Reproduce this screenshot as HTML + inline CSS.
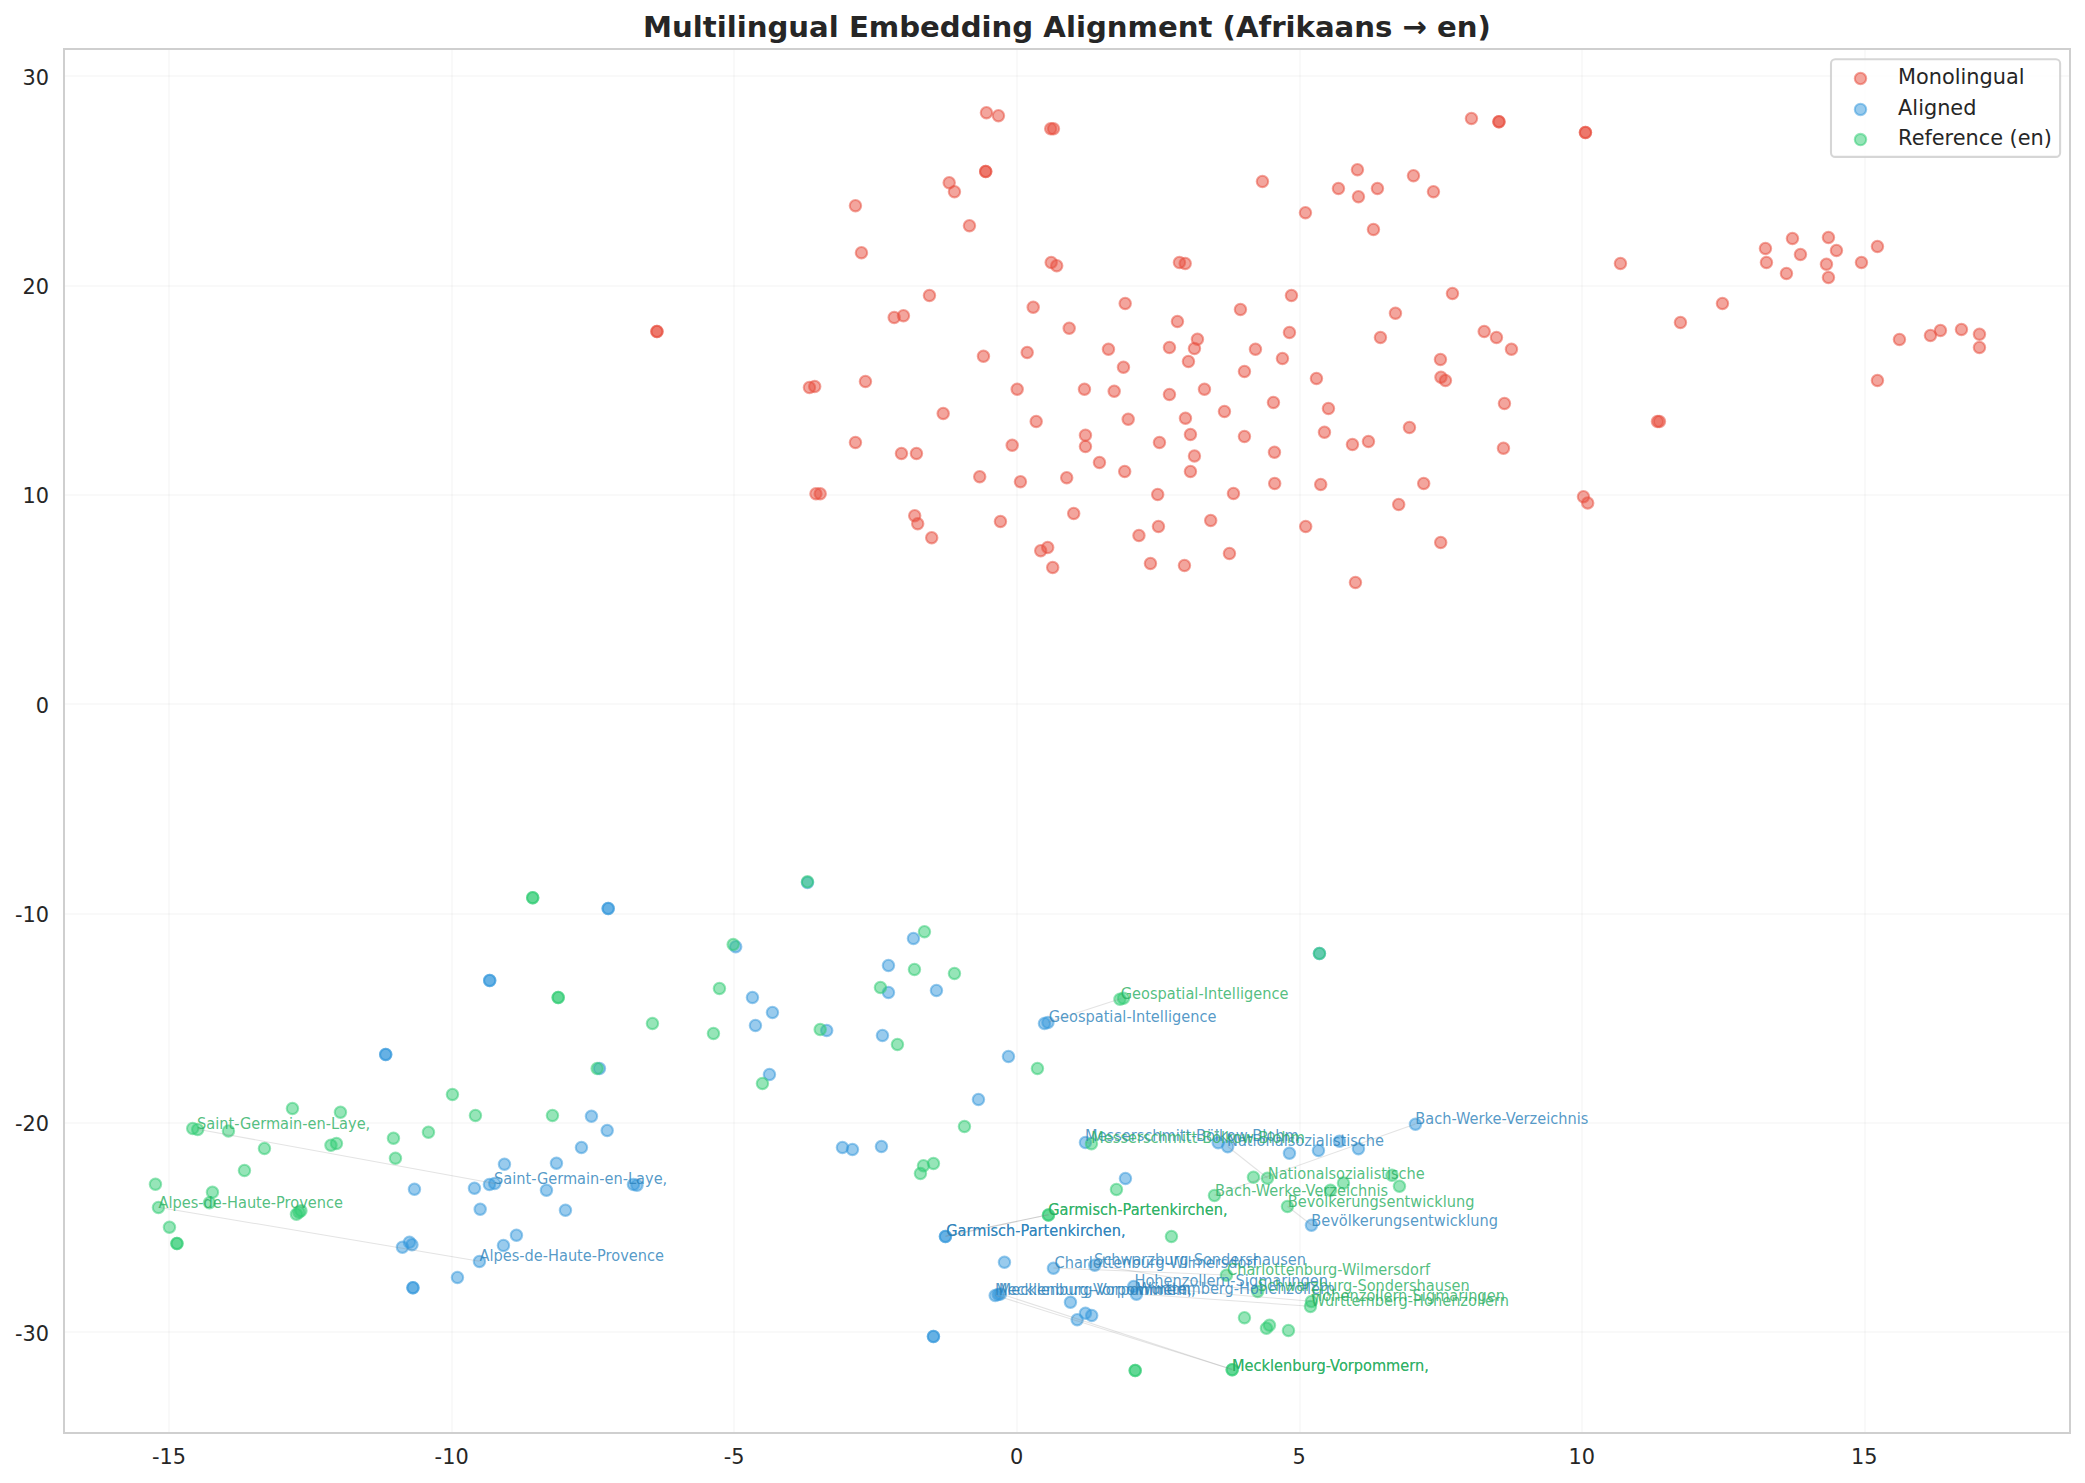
<!DOCTYPE html>
<html lang="en"><head><meta charset="utf-8">
<title>Multilingual Embedding Alignment (Afrikaans → en)</title>
<style>
html,body{margin:0;padding:0;background:#fff;}
body{width:2085px;height:1483px;overflow:hidden;}
svg{display:block;}
text{font-family:"DejaVu Sans","Liberation Sans",sans-serif;}
.tk{font-size:20.83px;fill:#262626;}
.lg{font-size:20.83px;fill:#262626;}
.ti{font-size:29.17px;font-weight:bold;fill:#262626;text-anchor:middle;}
.gl{font-size:14.58px;fill:#27ae60;fill-opacity:.8;}
.bl{font-size:14.58px;fill:#2980b9;fill-opacity:.8;}
.r circle,.b circle,.g circle{fill-opacity:.5;stroke-opacity:.5;stroke-width:2.08;}
.r circle{fill:#e74c3c;stroke:#e74c3c;}
.b circle{fill:#3498db;stroke:#3498db;}
.g circle{fill:#2ecc71;stroke:#2ecc71;}
.grid line{stroke:#cccccc;stroke-opacity:.11;stroke-width:2;}
.cl line{stroke:#808080;stroke-opacity:.22;stroke-width:1.04;}
</style></head><body>
<svg width="2085" height="1483" viewBox="0 0 2085 1483">
<rect x="0" y="0" width="2085" height="1483" fill="#ffffff"/>
<text class="ti" x="1067" y="36.7">Multilingual Embedding Alignment (Afrikaans → en)</text>
<g class="grid">
<line x1="169" y1="49" x2="169" y2="1433"/>
<line x1="452" y1="49" x2="452" y2="1433"/>
<line x1="734" y1="49" x2="734" y2="1433"/>
<line x1="1017" y1="49" x2="1017" y2="1433"/>
<line x1="1300" y1="49" x2="1300" y2="1433"/>
<line x1="1582" y1="49" x2="1582" y2="1433"/>
<line x1="1865" y1="49" x2="1865" y2="1433"/>
<line x1="64" y1="1332" x2="2070" y2="1332"/>
<line x1="64" y1="1123" x2="2070" y2="1123"/>
<line x1="64" y1="914" x2="2070" y2="914"/>
<line x1="64" y1="704" x2="2070" y2="704"/>
<line x1="64" y1="495" x2="2070" y2="495"/>
<line x1="64" y1="286" x2="2070" y2="286"/>
<line x1="64" y1="76" x2="2070" y2="76"/>
</g>
<g class="r">
<circle cx="986.45" cy="112.7" r="5.7"/>
<circle cx="998.45" cy="115.7" r="5.7"/>
<circle cx="1050.7" cy="128.7" r="5.7"/>
<circle cx="1053.45" cy="128.7" r="5.7"/>
<circle cx="985.7" cy="171.45" r="5.7"/>
<circle cx="985.7" cy="171.45" r="5.7"/>
<circle cx="949.2" cy="182.7" r="5.7"/>
<circle cx="954.45" cy="191.7" r="5.7"/>
<circle cx="855.45" cy="205.7" r="5.7"/>
<circle cx="969.45" cy="225.7" r="5.7"/>
<circle cx="861.45" cy="252.7" r="5.7"/>
<circle cx="1051.2" cy="262.45" r="5.7"/>
<circle cx="1056.7" cy="265.7" r="5.7"/>
<circle cx="929.45" cy="295.45" r="5.7"/>
<circle cx="1033.2" cy="307.2" r="5.7"/>
<circle cx="1125.2" cy="303.45" r="5.7"/>
<circle cx="894.2" cy="317.45" r="5.7"/>
<circle cx="903.45" cy="315.7" r="5.7"/>
<circle cx="656.95" cy="331.45" r="5.7"/>
<circle cx="656.95" cy="331.45" r="5.7"/>
<circle cx="1069.2" cy="328.2" r="5.7"/>
<circle cx="1108.45" cy="349.2" r="5.7"/>
<circle cx="1027.2" cy="352.45" r="5.7"/>
<circle cx="983.45" cy="356.2" r="5.7"/>
<circle cx="1123.45" cy="367.2" r="5.7"/>
<circle cx="865.45" cy="381.45" r="5.7"/>
<circle cx="809.45" cy="387.45" r="5.7"/>
<circle cx="814.7" cy="386.45" r="5.7"/>
<circle cx="1017.2" cy="389.2" r="5.7"/>
<circle cx="1084.45" cy="389.2" r="5.7"/>
<circle cx="1114.2" cy="391.2" r="5.7"/>
<circle cx="943.2" cy="413.45" r="5.7"/>
<circle cx="1036.2" cy="421.45" r="5.7"/>
<circle cx="1128.2" cy="419.2" r="5.7"/>
<circle cx="1085.45" cy="435.2" r="5.7"/>
<circle cx="855.45" cy="442.45" r="5.7"/>
<circle cx="1012.2" cy="445.2" r="5.7"/>
<circle cx="1085.45" cy="446.45" r="5.7"/>
<circle cx="901.45" cy="453.45" r="5.7"/>
<circle cx="916.45" cy="453.45" r="5.7"/>
<circle cx="1099.45" cy="462.45" r="5.7"/>
<circle cx="1471.45" cy="118.45" r="5.7"/>
<circle cx="1498.95" cy="121.7" r="5.7"/>
<circle cx="1498.95" cy="121.7" r="5.7"/>
<circle cx="1585.45" cy="132.45" r="5.7"/>
<circle cx="1585.45" cy="132.45" r="5.7"/>
<circle cx="1357.45" cy="169.7" r="5.7"/>
<circle cx="1262.45" cy="181.45" r="5.7"/>
<circle cx="1413.45" cy="175.7" r="5.7"/>
<circle cx="1338.45" cy="188.45" r="5.7"/>
<circle cx="1377.45" cy="188.45" r="5.7"/>
<circle cx="1358.45" cy="196.7" r="5.7"/>
<circle cx="1433.45" cy="191.7" r="5.7"/>
<circle cx="1305.45" cy="212.7" r="5.7"/>
<circle cx="1373.45" cy="229.45" r="5.7"/>
<circle cx="1179.45" cy="262.45" r="5.7"/>
<circle cx="1185.2" cy="263.45" r="5.7"/>
<circle cx="1620.45" cy="263.45" r="5.7"/>
<circle cx="1291.45" cy="295.45" r="5.7"/>
<circle cx="1452.45" cy="293.45" r="5.7"/>
<circle cx="1240.45" cy="309.45" r="5.7"/>
<circle cx="1395.45" cy="313.2" r="5.7"/>
<circle cx="1177.45" cy="321.45" r="5.7"/>
<circle cx="1289.45" cy="332.45" r="5.7"/>
<circle cx="1484.2" cy="331.45" r="5.7"/>
<circle cx="1496.45" cy="337.45" r="5.7"/>
<circle cx="1380.45" cy="337.45" r="5.7"/>
<circle cx="1197.45" cy="339.2" r="5.7"/>
<circle cx="1169.45" cy="347.45" r="5.7"/>
<circle cx="1194.45" cy="348.45" r="5.7"/>
<circle cx="1255.45" cy="349.2" r="5.7"/>
<circle cx="1511.45" cy="349.2" r="5.7"/>
<circle cx="1282.45" cy="358.45" r="5.7"/>
<circle cx="1440.45" cy="359.45" r="5.7"/>
<circle cx="1188.45" cy="361.45" r="5.7"/>
<circle cx="1244.45" cy="371.45" r="5.7"/>
<circle cx="1316.45" cy="378.45" r="5.7"/>
<circle cx="1440.95" cy="377.2" r="5.7"/>
<circle cx="1445.45" cy="380.45" r="5.7"/>
<circle cx="1204.45" cy="389.2" r="5.7"/>
<circle cx="1169.45" cy="394.45" r="5.7"/>
<circle cx="1273.45" cy="402.45" r="5.7"/>
<circle cx="1504.45" cy="403.45" r="5.7"/>
<circle cx="1328.45" cy="408.45" r="5.7"/>
<circle cx="1224.45" cy="411.45" r="5.7"/>
<circle cx="1185.45" cy="418.2" r="5.7"/>
<circle cx="1409.45" cy="427.45" r="5.7"/>
<circle cx="1324.45" cy="432.2" r="5.7"/>
<circle cx="1190.45" cy="434.45" r="5.7"/>
<circle cx="1244.45" cy="436.45" r="5.7"/>
<circle cx="1368.45" cy="441.45" r="5.7"/>
<circle cx="1159.45" cy="442.45" r="5.7"/>
<circle cx="1352.45" cy="444.45" r="5.7"/>
<circle cx="1503.45" cy="448.2" r="5.7"/>
<circle cx="1274.45" cy="452.2" r="5.7"/>
<circle cx="1194.45" cy="455.95" r="5.7"/>
<circle cx="1792.45" cy="238.45" r="5.7"/>
<circle cx="1828.45" cy="237.45" r="5.7"/>
<circle cx="1765.45" cy="248.45" r="5.7"/>
<circle cx="1877.45" cy="246.45" r="5.7"/>
<circle cx="1836.45" cy="250.45" r="5.7"/>
<circle cx="1800.45" cy="254.45" r="5.7"/>
<circle cx="1766.45" cy="262.45" r="5.7"/>
<circle cx="1826.45" cy="264.2" r="5.7"/>
<circle cx="1861.45" cy="262.45" r="5.7"/>
<circle cx="1786.45" cy="273.45" r="5.7"/>
<circle cx="1828.45" cy="277.45" r="5.7"/>
<circle cx="1722.45" cy="303.45" r="5.7"/>
<circle cx="1680.45" cy="322.45" r="5.7"/>
<circle cx="1899.45" cy="339.45" r="5.7"/>
<circle cx="1930.45" cy="335.45" r="5.7"/>
<circle cx="1940.45" cy="330.45" r="5.7"/>
<circle cx="1961.45" cy="329.45" r="5.7"/>
<circle cx="1979.45" cy="334.2" r="5.7"/>
<circle cx="1979.45" cy="347.45" r="5.7"/>
<circle cx="1877.45" cy="380.45" r="5.7"/>
<circle cx="1657.45" cy="421.45" r="5.7"/>
<circle cx="1659.45" cy="421.45" r="5.7"/>
<circle cx="1124.7" cy="471.45" r="5.7"/>
<circle cx="979.7" cy="476.7" r="5.7"/>
<circle cx="1066.7" cy="477.7" r="5.7"/>
<circle cx="1020.45" cy="481.7" r="5.7"/>
<circle cx="815.95" cy="493.7" r="5.7"/>
<circle cx="820.2" cy="493.7" r="5.7"/>
<circle cx="914.7" cy="515.7" r="5.7"/>
<circle cx="917.7" cy="523.7" r="5.7"/>
<circle cx="931.7" cy="537.7" r="5.7"/>
<circle cx="1000.45" cy="521.45" r="5.7"/>
<circle cx="1073.7" cy="513.45" r="5.7"/>
<circle cx="1138.95" cy="535.45" r="5.7"/>
<circle cx="1040.7" cy="550.7" r="5.7"/>
<circle cx="1047.7" cy="547.45" r="5.7"/>
<circle cx="1052.7" cy="567.45" r="5.7"/>
<circle cx="1190.45" cy="471.45" r="5.7"/>
<circle cx="1274.7" cy="483.45" r="5.7"/>
<circle cx="1320.7" cy="484.45" r="5.7"/>
<circle cx="1423.7" cy="483.45" r="5.7"/>
<circle cx="1157.7" cy="494.45" r="5.7"/>
<circle cx="1233.45" cy="493.45" r="5.7"/>
<circle cx="1398.7" cy="504.45" r="5.7"/>
<circle cx="1583.45" cy="496.7" r="5.7"/>
<circle cx="1587.7" cy="502.95" r="5.7"/>
<circle cx="1210.7" cy="520.45" r="5.7"/>
<circle cx="1158.45" cy="526.45" r="5.7"/>
<circle cx="1305.7" cy="526.45" r="5.7"/>
<circle cx="1440.7" cy="542.45" r="5.7"/>
<circle cx="1229.45" cy="553.45" r="5.7"/>
<circle cx="1150.45" cy="563.45" r="5.7"/>
<circle cx="1184.45" cy="565.45" r="5.7"/>
<circle cx="1355.45" cy="582.45" r="5.7"/>
</g>
<g class="b">
<circle cx="599.45" cy="1068.45" r="5.7"/>
<circle cx="608.2" cy="908.45" r="5.7"/>
<circle cx="608.2" cy="908.45" r="5.7"/>
<circle cx="489.7" cy="980.45" r="5.7"/>
<circle cx="489.7" cy="980.45" r="5.7"/>
<circle cx="385.7" cy="1054.45" r="5.7"/>
<circle cx="385.7" cy="1054.45" r="5.7"/>
<circle cx="591.45" cy="1116.2" r="5.7"/>
<circle cx="607.2" cy="1130.45" r="5.7"/>
<circle cx="581.45" cy="1147.45" r="5.7"/>
<circle cx="504.45" cy="1164.2" r="5.7"/>
<circle cx="556.45" cy="1163.2" r="5.7"/>
<circle cx="489.45" cy="1184.45" r="5.7"/>
<circle cx="494.7" cy="1183.45" r="5.7"/>
<circle cx="414.45" cy="1189.2" r="5.7"/>
<circle cx="474.45" cy="1188.2" r="5.7"/>
<circle cx="546.45" cy="1190.2" r="5.7"/>
<circle cx="633.45" cy="1184.45" r="5.7"/>
<circle cx="636.95" cy="1185.2" r="5.7"/>
<circle cx="480.2" cy="1209.2" r="5.7"/>
<circle cx="565.45" cy="1210.2" r="5.7"/>
<circle cx="516.45" cy="1235.2" r="5.7"/>
<circle cx="503.45" cy="1245.45" r="5.7"/>
<circle cx="409.45" cy="1242.2" r="5.7"/>
<circle cx="411.95" cy="1244.7" r="5.7"/>
<circle cx="402.45" cy="1247.2" r="5.7"/>
<circle cx="479.45" cy="1261.45" r="5.7"/>
<circle cx="457.45" cy="1277.45" r="5.7"/>
<circle cx="412.95" cy="1287.7" r="5.7"/>
<circle cx="412.95" cy="1287.7" r="5.7"/>
<circle cx="807.5" cy="882.5" r="5.7"/>
<circle cx="913.45" cy="938.45" r="5.7"/>
<circle cx="735.7" cy="946.7" r="5.7"/>
<circle cx="888.45" cy="965.45" r="5.7"/>
<circle cx="888.45" cy="992.45" r="5.7"/>
<circle cx="936.45" cy="990.45" r="5.7"/>
<circle cx="752.45" cy="997.45" r="5.7"/>
<circle cx="772.45" cy="1012.45" r="5.7"/>
<circle cx="1044.45" cy="1023.45" r="5.7"/>
<circle cx="1047.95" cy="1022.45" r="5.7"/>
<circle cx="755.45" cy="1025.45" r="5.7"/>
<circle cx="826.7" cy="1030.45" r="5.7"/>
<circle cx="882.45" cy="1035.45" r="5.7"/>
<circle cx="1008.45" cy="1056.45" r="5.7"/>
<circle cx="769.45" cy="1074.45" r="5.7"/>
<circle cx="978.45" cy="1099.45" r="5.7"/>
<circle cx="842.45" cy="1147.45" r="5.7"/>
<circle cx="852.45" cy="1149.45" r="5.7"/>
<circle cx="881.45" cy="1146.45" r="5.7"/>
<circle cx="1085.45" cy="1142.45" r="5.7"/>
<circle cx="1125.45" cy="1178.45" r="5.7"/>
<circle cx="945.45" cy="1236.45" r="5.7"/>
<circle cx="945.45" cy="1236.45" r="5.7"/>
<circle cx="1004.45" cy="1262.2" r="5.7"/>
<circle cx="1053.45" cy="1268.2" r="5.7"/>
<circle cx="1094.7" cy="1265.2" r="5.7"/>
<circle cx="995.2" cy="1295.45" r="5.7"/>
<circle cx="998.2" cy="1294.45" r="5.7"/>
<circle cx="1000.45" cy="1293.95" r="5.7"/>
<circle cx="1070.45" cy="1302.2" r="5.7"/>
<circle cx="1085.45" cy="1313.2" r="5.7"/>
<circle cx="1091.7" cy="1315.45" r="5.7"/>
<circle cx="1077.2" cy="1319.7" r="5.7"/>
<circle cx="1133.7" cy="1286.45" r="5.7"/>
<circle cx="1136.45" cy="1294.2" r="5.7"/>
<circle cx="933.45" cy="1336.45" r="5.7"/>
<circle cx="933.45" cy="1336.45" r="5.7"/>
<circle cx="1319.45" cy="953.45" r="5.7"/>
<circle cx="1415.45" cy="1124.2" r="5.7"/>
<circle cx="1218.2" cy="1142.7" r="5.7"/>
<circle cx="1227.7" cy="1146.7" r="5.7"/>
<circle cx="1289.45" cy="1153.2" r="5.7"/>
<circle cx="1318.45" cy="1150.45" r="5.7"/>
<circle cx="1339.45" cy="1141.2" r="5.7"/>
<circle cx="1358.45" cy="1148.7" r="5.7"/>
<circle cx="1311.45" cy="1225.2" r="5.7"/>
</g>
<g class="g">
<circle cx="532.7" cy="897.7" r="5.7"/>
<circle cx="532.7" cy="897.7" r="5.7"/>
<circle cx="558.2" cy="997.45" r="5.7"/>
<circle cx="558.2" cy="997.45" r="5.7"/>
<circle cx="652.45" cy="1023.45" r="5.7"/>
<circle cx="597.2" cy="1068.45" r="5.7"/>
<circle cx="452.45" cy="1094.45" r="5.7"/>
<circle cx="292.45" cy="1108.45" r="5.7"/>
<circle cx="340.45" cy="1112.2" r="5.7"/>
<circle cx="475.45" cy="1115.45" r="5.7"/>
<circle cx="552.45" cy="1115.45" r="5.7"/>
<circle cx="192.7" cy="1128.45" r="5.7"/>
<circle cx="197.7" cy="1129.45" r="5.7"/>
<circle cx="228.45" cy="1130.95" r="5.7"/>
<circle cx="428.45" cy="1132.2" r="5.7"/>
<circle cx="393.45" cy="1138.2" r="5.7"/>
<circle cx="336.45" cy="1143.45" r="5.7"/>
<circle cx="330.95" cy="1145.2" r="5.7"/>
<circle cx="264.45" cy="1148.45" r="5.7"/>
<circle cx="395.45" cy="1158.2" r="5.7"/>
<circle cx="244.45" cy="1170.45" r="5.7"/>
<circle cx="155.45" cy="1184.2" r="5.7"/>
<circle cx="212.45" cy="1192.2" r="5.7"/>
<circle cx="209.45" cy="1202.7" r="5.7"/>
<circle cx="158.45" cy="1207.45" r="5.7"/>
<circle cx="296.45" cy="1214.2" r="5.7"/>
<circle cx="298.95" cy="1212.2" r="5.7"/>
<circle cx="300.95" cy="1210.7" r="5.7"/>
<circle cx="169.45" cy="1227.2" r="5.7"/>
<circle cx="176.95" cy="1243.45" r="5.7"/>
<circle cx="176.95" cy="1243.45" r="5.7"/>
<circle cx="807.5" cy="881.8" r="5.7"/>
<circle cx="924.45" cy="931.7" r="5.7"/>
<circle cx="733.2" cy="944.45" r="5.7"/>
<circle cx="914.45" cy="969.45" r="5.7"/>
<circle cx="954.45" cy="973.45" r="5.7"/>
<circle cx="719.45" cy="988.45" r="5.7"/>
<circle cx="880.45" cy="987.45" r="5.7"/>
<circle cx="1119.95" cy="999.2" r="5.7"/>
<circle cx="1123.45" cy="998.2" r="5.7"/>
<circle cx="713.45" cy="1033.45" r="5.7"/>
<circle cx="820.2" cy="1029.45" r="5.7"/>
<circle cx="897.45" cy="1044.45" r="5.7"/>
<circle cx="1037.45" cy="1068.45" r="5.7"/>
<circle cx="762.45" cy="1083.45" r="5.7"/>
<circle cx="964.45" cy="1126.45" r="5.7"/>
<circle cx="1091.45" cy="1143.7" r="5.7"/>
<circle cx="933.45" cy="1163.45" r="5.7"/>
<circle cx="923.45" cy="1165.7" r="5.7"/>
<circle cx="920.45" cy="1173.45" r="5.7"/>
<circle cx="1116.45" cy="1189.45" r="5.7"/>
<circle cx="1048.45" cy="1214.95" r="5.7"/>
<circle cx="1048.45" cy="1214.95" r="5.7"/>
<circle cx="1319.45" cy="953.45" r="5.7"/>
<circle cx="1253.45" cy="1177.2" r="5.7"/>
<circle cx="1267.45" cy="1178.2" r="5.7"/>
<circle cx="1214.45" cy="1195.45" r="5.7"/>
<circle cx="1330.45" cy="1190.2" r="5.7"/>
<circle cx="1343.45" cy="1182.95" r="5.7"/>
<circle cx="1391.95" cy="1175.2" r="5.7"/>
<circle cx="1399.45" cy="1186.2" r="5.7"/>
<circle cx="1287.45" cy="1206.45" r="5.7"/>
<circle cx="1171.45" cy="1236.45" r="5.7"/>
<circle cx="1226.45" cy="1275.2" r="5.7"/>
<circle cx="1257.7" cy="1291.45" r="5.7"/>
<circle cx="1311.45" cy="1301.45" r="5.7"/>
<circle cx="1310.45" cy="1306.45" r="5.7"/>
<circle cx="1244.45" cy="1317.7" r="5.7"/>
<circle cx="1269.45" cy="1325.2" r="5.7"/>
<circle cx="1266.45" cy="1328.2" r="5.7"/>
<circle cx="1288.45" cy="1330.45" r="5.7"/>
<circle cx="1135.2" cy="1370.45" r="5.7"/>
<circle cx="1135.2" cy="1370.45" r="5.7"/>
<circle cx="1232.2" cy="1369.7" r="5.7"/>
<circle cx="1232.2" cy="1369.7" r="5.7"/>
</g>
<g class="cl">
<line x1="494.7" y1="1183.5" x2="197.7" y2="1129.25"/>
<line x1="479.45" y1="1261.25" x2="158.45" y2="1207.25"/>
<line x1="1047.95" y1="1022.25" x2="1121.2" y2="998.5"/>
<line x1="1085.45" y1="1142.25" x2="1091.45" y2="1143.5"/>
<line x1="945.45" y1="1236.25" x2="1048.45" y2="1214.75"/>
<line x1="945.45" y1="1236.25" x2="1048.45" y2="1214.75"/>
<line x1="1227.7" y1="1146.5" x2="1267.45" y2="1178"/>
<line x1="1415.45" y1="1124" x2="1214.45" y2="1195.25"/>
<line x1="1311.45" y1="1225" x2="1287.45" y2="1206.25"/>
<line x1="1053.45" y1="1268" x2="1226.45" y2="1275"/>
<line x1="1094.7" y1="1265" x2="1257.7" y2="1291.25"/>
<line x1="1133.7" y1="1286.25" x2="1311.45" y2="1301.25"/>
<line x1="1136.45" y1="1294" x2="1310.45" y2="1306.25"/>
<line x1="995.2" y1="1295.25" x2="1232.2" y2="1369.5"/>
<line x1="1000.45" y1="1293.75" x2="1232.2" y2="1369.5"/>
</g>
<text class="bl" transform="translate(494 1183.75) scale(1 1.08)">Saint-Germain-en-Laye,</text>
<text class="bl" transform="translate(479.5 1260.75) scale(1 1.08)">Alpes-de-Haute-Provence</text>
<text class="bl" transform="translate(1048.75 1022) scale(1 1.08)">Geospatial-Intelligence</text>
<text class="bl" transform="translate(1085.1 1141.2) scale(1 1.08)">Messerschmitt-Bölkow-Blohm</text>
<text class="bl" transform="translate(946.25 1236.25) scale(1 1.08)">Garmisch-Partenkirchen,</text>
<text class="bl" transform="translate(946.25 1236.25) scale(1 1.08)">Garmisch-Partenkirchen,</text>
<text class="bl" transform="translate(1227 1146.25) scale(1 1.08)">Nationalsozialistische</text>
<text class="bl" transform="translate(1415.25 1123.75) scale(1 1.08)">Bach-Werke-Verzeichnis</text>
<text class="bl" transform="translate(1311.25 1225.5) scale(1 1.08)">Bevölkerungsentwicklung</text>
<text class="bl" transform="translate(1054.5 1267.5) scale(1 1.08)">Charlottenburg-Wilmersdorf</text>
<text class="bl" transform="translate(1094 1264.5) scale(1 1.08)">Schwarzburg-Sondershausen</text>
<text class="bl" transform="translate(1134.5 1286.25) scale(1 1.08)">Hohenzollern-Sigmaringen</text>
<text class="bl" transform="translate(1137 1293.75) scale(1 1.08)">Württemberg-Hohenzollern</text>
<text class="bl" transform="translate(995 1294.5) scale(1 1.08)">Mecklenburg-Vorpommern,</text>
<text class="bl" transform="translate(998.75 1294.5) scale(1 1.08)">Mecklenburg-Vorpommern,</text>
<text class="gl" transform="translate(197 1128.75) scale(1 1.08)">Saint-Germain-en-Laye,</text>
<text class="gl" transform="translate(158.5 1207.5) scale(1 1.08)">Alpes-de-Haute-Provence</text>
<text class="gl" transform="translate(1120.75 998.75) scale(1 1.08)">Geospatial-Intelligence</text>
<text class="gl" transform="translate(1091.3 1142.7) scale(1 1.08)">Messerschmitt-Bölkow-Blohm</text>
<text class="gl" transform="translate(1048.25 1215) scale(1 1.08)">Garmisch-Partenkirchen,</text>
<text class="gl" transform="translate(1048.25 1215) scale(1 1.08)">Garmisch-Partenkirchen,</text>
<text class="gl" transform="translate(1267.75 1178.75) scale(1 1.08)">Nationalsozialistische</text>
<text class="gl" transform="translate(1215 1195.75) scale(1 1.08)">Bach-Werke-Verzeichnis</text>
<text class="gl" transform="translate(1287.75 1206.75) scale(1 1.08)">Bevölkerungsentwicklung</text>
<text class="gl" transform="translate(1227 1274.5) scale(1 1.08)">Charlottenburg-Wilmersdorf</text>
<text class="gl" transform="translate(1257.75 1291.25) scale(1 1.08)">Schwarzburg-Sondershausen</text>
<text class="gl" transform="translate(1311.5 1301.25) scale(1 1.08)">Hohenzollern-Sigmaringen</text>
<text class="gl" transform="translate(1311 1305.75) scale(1 1.08)">Württemberg-Hohenzollern</text>
<text class="gl" transform="translate(1232 1370.5) scale(1 1.08)">Mecklenburg-Vorpommern,</text>
<text class="gl" transform="translate(1232 1370.5) scale(1 1.08)">Mecklenburg-Vorpommern,</text>
<rect x="64" y="49" width="2006" height="1384" fill="none" stroke="#cfcfcf" stroke-width="2"/>
<text class="tk" text-anchor="middle" x="169.1" y="1464.3">-15</text>
<text class="tk" text-anchor="middle" x="451.63" y="1464.3">-10</text>
<text class="tk" text-anchor="middle" x="734.17" y="1464.3">-5</text>
<text class="tk" text-anchor="middle" x="1016.7" y="1464.3">0</text>
<text class="tk" text-anchor="middle" x="1299.24" y="1464.3">5</text>
<text class="tk" text-anchor="middle" x="1581.77" y="1464.3">10</text>
<text class="tk" text-anchor="middle" x="1864.31" y="1464.3">15</text>
<text class="tk" text-anchor="end" x="49" y="1340.59">-30</text>
<text class="tk" text-anchor="end" x="49" y="1131.26">-20</text>
<text class="tk" text-anchor="end" x="49" y="921.93">-10</text>
<text class="tk" text-anchor="end" x="49" y="712.6">0</text>
<text class="tk" text-anchor="end" x="49" y="503.27">10</text>
<text class="tk" text-anchor="end" x="49" y="293.94">20</text>
<text class="tk" text-anchor="end" x="49" y="84.61">30</text>
<rect x="1831" y="59.2" width="229.1" height="97.7" rx="4.2" ry="4.2" fill="#ffffff" fill-opacity=".8" stroke="#cccccc" stroke-opacity=".8" stroke-width="2.08"/>
<g class="r"><circle cx="1860.5" cy="78.5" r="5.7"/></g>
<text class="lg" x="1898.1" y="84">Monolingual</text>
<g class="b"><circle cx="1860.5" cy="109.4" r="5.7"/></g>
<text class="lg" x="1898.1" y="114.9">Aligned</text>
<g class="g"><circle cx="1860.5" cy="139.6" r="5.7"/></g>
<text class="lg" x="1898.1" y="145.1">Reference (en)</text>
</svg>
</body></html>
